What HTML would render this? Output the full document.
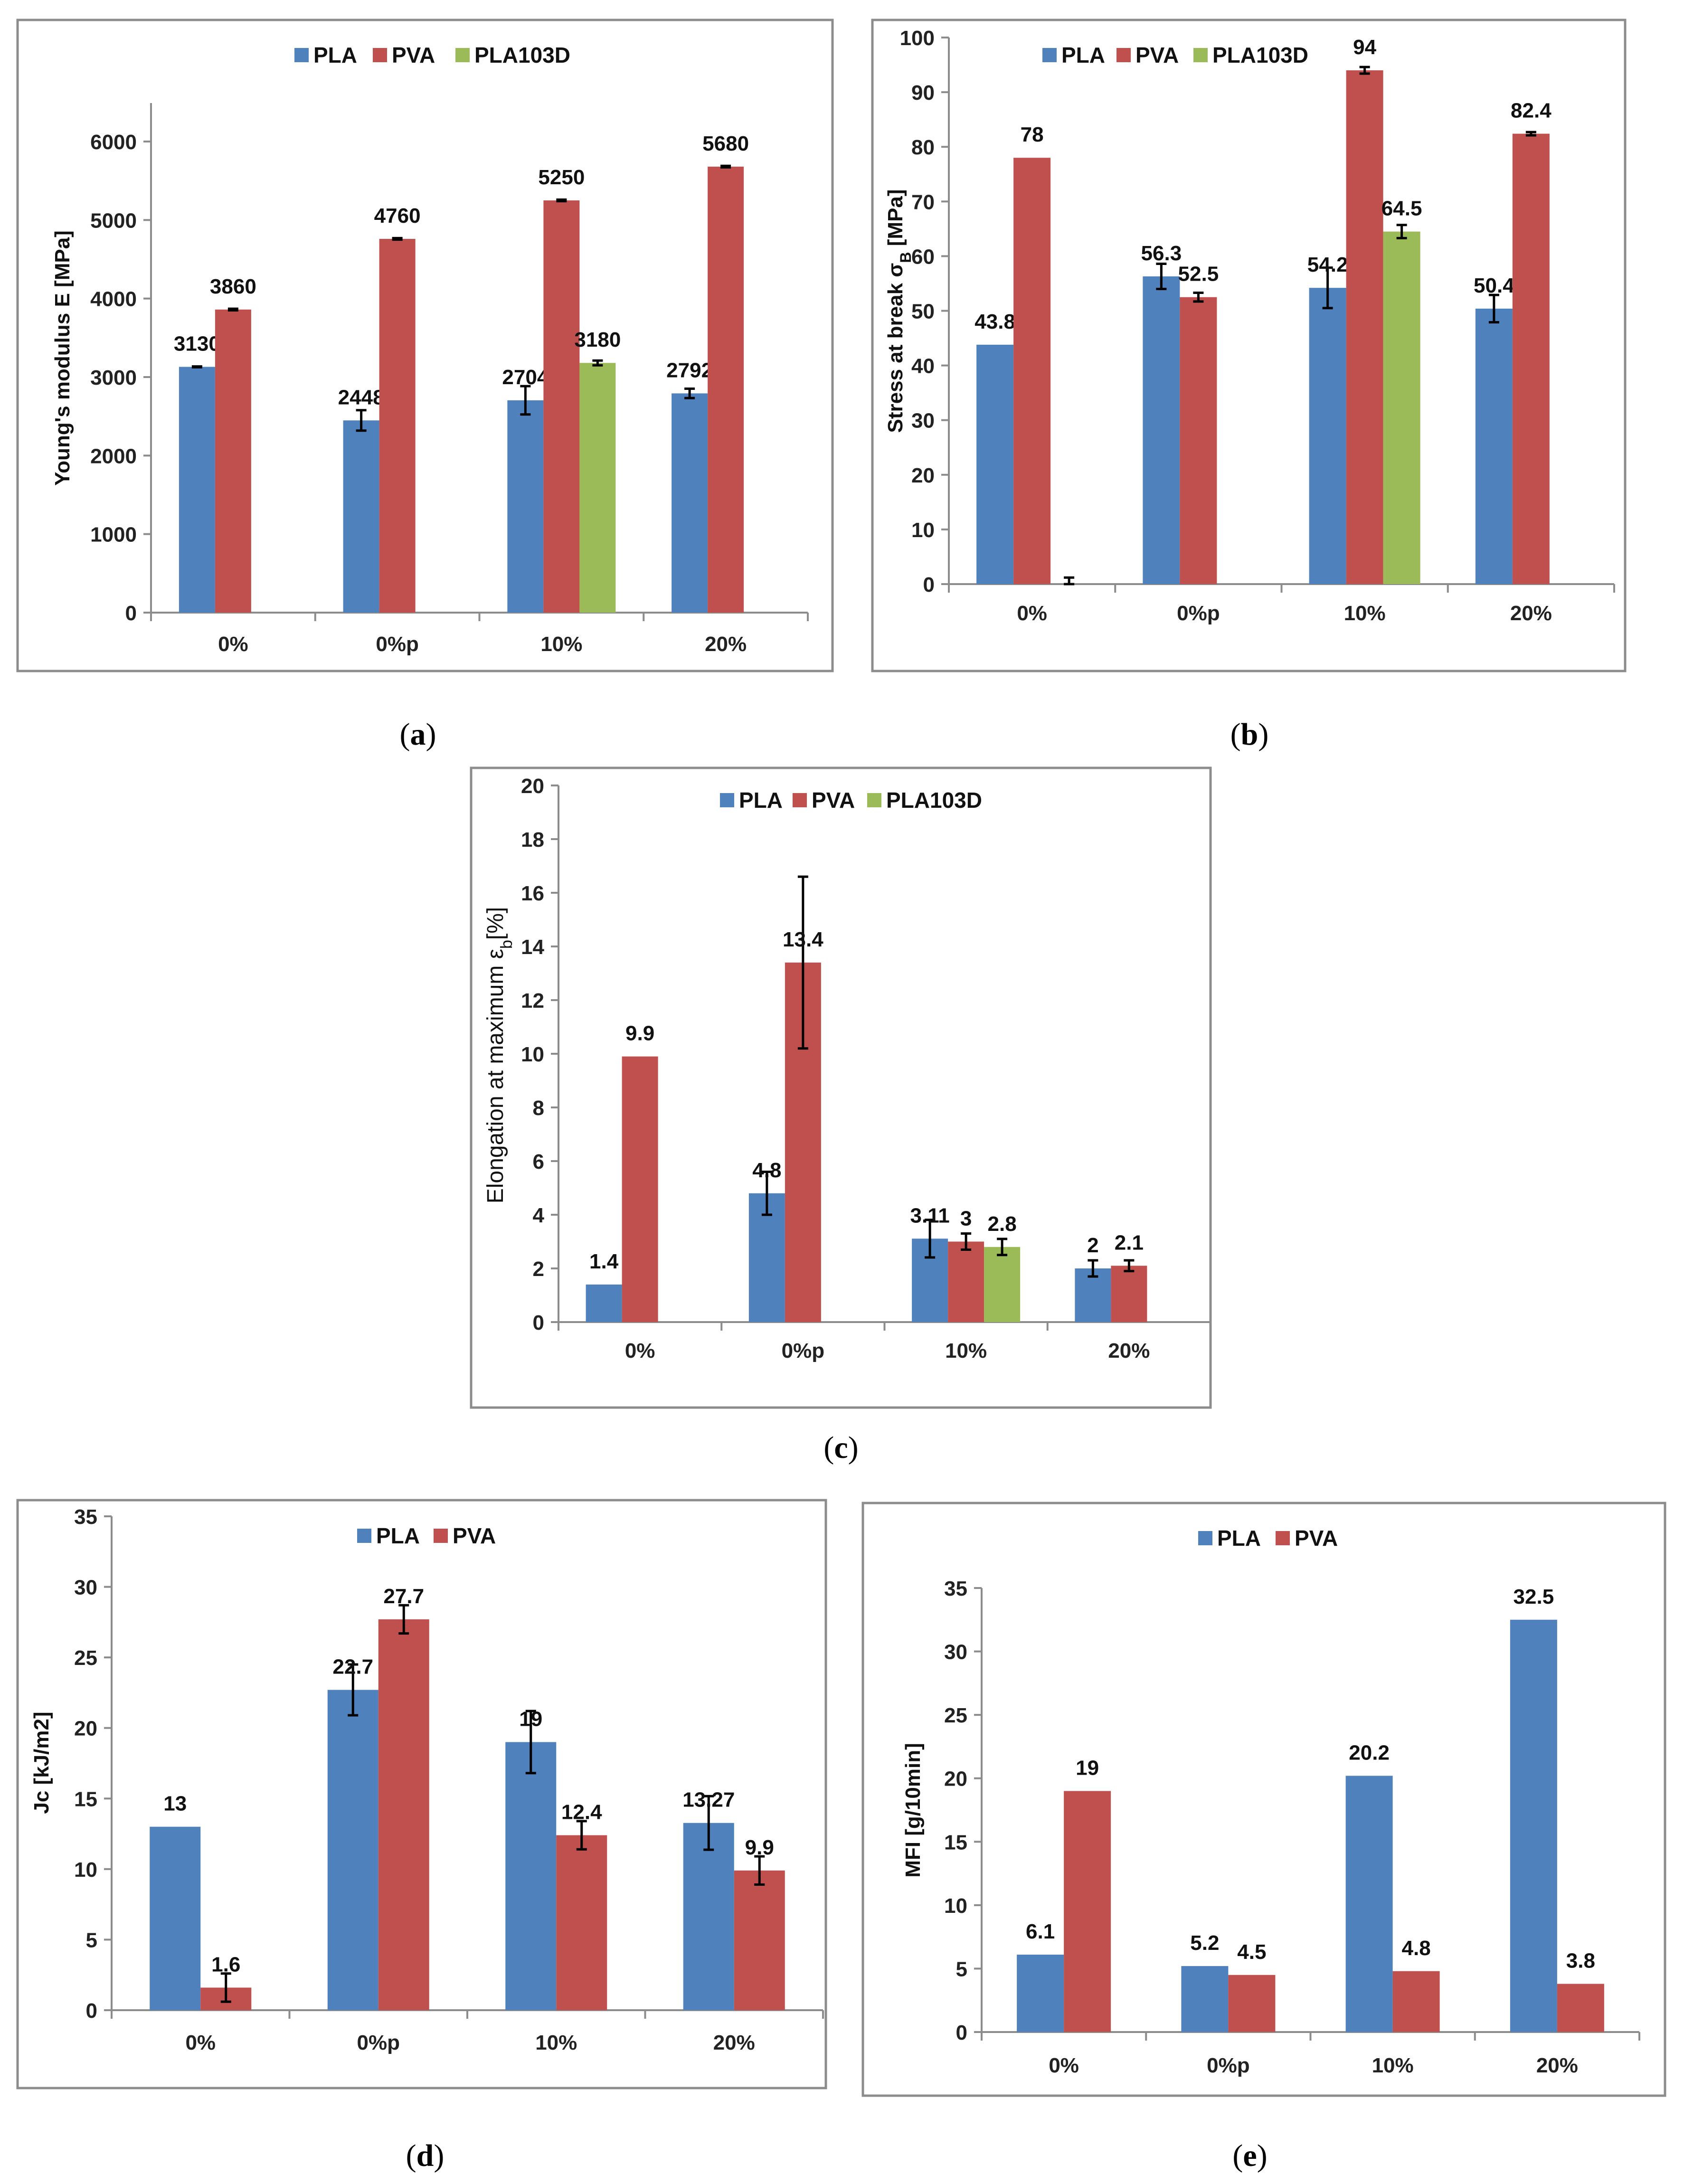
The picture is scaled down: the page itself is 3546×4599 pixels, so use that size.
<!DOCTYPE html>
<html><head><meta charset="utf-8">
<style>
html,body{margin:0;padding:0;background:#fff;}
svg{display:block;font-family:"Liberation Sans",sans-serif;}
</style></head>
<body>
<svg id="fig" width="3546" height="4599" viewBox="0 0 3546 4599" xmlns="http://www.w3.org/2000/svg">
<rect x="0" y="0" width="3546" height="4599" fill="#fff"/>
</svg>
<script>
const cats = ['0%', '0%p', '10%', '20%'];
// (a) Young's modulus
const A_pla = [3130, 2448, 2704, 2792];
const A_pla_err = [5, 130, 180, 60];
const A_pva = [3860, 4760, 5250, 5680];
const A_pva_err = [10, 10, 10, 10];
const A_g = [null, null, 3180, null];
const A_g_err = [0, 0, 30, 0];
const A_ticks = [0, 1000, 2000, 3000, 4000, 5000, 6000];
// (b) Stress at break
const B_pla = [43.8, 56.3, 54.2, 50.4];
const B_pla_err = [0, 2.3, 3.7, 2.5];
const B_pva = [78, 52.5, 94, 82.4];
const B_pva_err = [0, 0.8, 0.6, 0.3];
const B_g = [0, null, 64.5, null];
const B_g_err = [1.2, 0, 1.2, 0];
const B_ticks = [0, 10, 20, 30, 40, 50, 60, 70, 80, 90, 100];
// (c) Elongation
const C_pla = [1.4, 4.8, 3.11, 2];
const C_pla_err = [0, 0.8, 0.7, 0.3];
const C_pva = [9.9, 13.4, 3, 2.1];
const C_pva_err = [0, 3.2, 0.3, 0.2];
const C_g = [null, null, 2.8, null];
const C_g_err = [0, 0, 0.3, 0];
const C_ticks = [0, 2, 4, 6, 8, 10, 12, 14, 16, 18, 20];
// (d) Jc
const D_pla = [13, 22.7, 19, 13.27];
const D_pla_err = [0, 1.8, 2.2, 1.9];
const D_pva = [1.6, 27.7, 12.4, 9.9];
const D_pva_err = [1.0, 1.0, 1.0, 1.0];
const D_ticks = [0, 5, 10, 15, 20, 25, 30, 35];
// (e) MFI
const E_pla = [6.1, 5.2, 20.2, 32.5];
const E_pva = [19, 4.5, 4.8, 3.8];
const E_ticks = [0, 5, 10, 15, 20, 25, 30, 35];

const NS = 'http://www.w3.org/2000/svg';
const svg = document.getElementById('fig');
const BLUE = '#4F81BD', RED = '#C0504D', GREEN = '#9BBB59';

function mk(tag, attrs, parent) {
  const e = document.createElementNS(NS, tag);
  for (const k in attrs) e.setAttribute(k, attrs[k]);
  (parent || svg).appendChild(e);
  return e;
}

function draw(c) {
  const g = mk('g', {});
  
  
  const fr = mk('rect', {x: c.fx, y: c.fy, width: c.fw, height: c.fh, fill: '#fff', stroke: '#8c8c8c', 'stroke-width': 5}, g);
  
  
  const yv = v => c.y0 - (v - c.vmin) / (c.vmax - c.vmin) * (c.y0 - c.ytop);
  const ya = mk('line', {x1: c.x0, y1: c.axTop, x2: c.x0, y2: c.y0, stroke: '#8c8c8c', 'stroke-width': 4}, g);
  
  
  c.ticks.forEach(t => {
    const y = yv(t);
    const tl = mk('line', {x1: c.x0 - 16, y1: y, x2: c.x0, y2: y, stroke: '#8c8c8c', 'stroke-width': 4}, g);
    
    
    const tx = mk('text', {x: c.x0 - 30, y: y + 16, 'text-anchor': 'end', 'font-size': 44, 'font-weight': 'bold', fill: '#222'}, g);
    tx.textContent = t;
    
    
  });
  const xa = mk('line', {x1: c.x0, y1: c.y0, x2: c.x1, y2: c.y0, stroke: '#8c8c8c', 'stroke-width': 4}, g);
  
  
  const cw = (c.x1 - c.x0) / cats.length;
  for (let i = 0; i <= cats.length; i++) {
    const x = c.x0 + i * cw;
    const tk = mk('line', {x1: x, y1: c.y0, x2: x, y2: c.y0 + 18, stroke: '#8c8c8c', 'stroke-width': 4}, g);
    
    
  }
  cats.forEach((cat, i) => {
    const tx = mk('text', {x: c.x0 + (i + 0.5) * cw, y: c.xlabY + 16, 'text-anchor': 'middle', 'font-size': 44, 'font-weight': 'bold', fill: '#222'}, g);
    tx.textContent = cat;
    
    
  });
  const ns = c.series.length;
  c.series.forEach((s, si) => {
    cats.forEach((cat, i) => {
      const v = s.vals[i];
      if (v === null || v === undefined) return;
      const left = c.x0 + (i + 0.5) * cw - ns * c.bw / 2 + si * c.bw;
      const top = yv(v);
      if (v > 0) {
        const r = mk('rect', {x: left, y: top, width: c.bw, height: c.y0 - top, fill: s.color}, g);
        
        
      }
      const er = s.errs ? s.errs[i] : 0;
      if (er > 0) {
        const cx = left + c.bw / 2;
        const e1 = yv(v + er), e2 = yv(Math.max(v - er, 0));
        const el = mk('path', {d: `M${cx},${e1}V${e2}M${cx - 11},${e1}H${cx + 11}M${cx - 11},${e2}H${cx + 11}`, stroke: '#000', 'stroke-width': 5, fill: 'none'}, g);
        
        
      }
      if (v > 0) {
        const lb = mk('text', {x: left + c.bw / 2, y: top - 34, 'text-anchor': 'middle', 'font-size': 44, 'font-weight': 'bold', fill: '#111'}, g);
        lb.textContent = v;
        
        
      }
    });
  });
  c.series.forEach((s, si) => {
    const lx = c.legX[si];
    const sq = mk('rect', {x: lx, y: c.legY - 15, width: 30, height: 30, fill: s.color}, g);
    
    
    const lt = mk('text', {x: lx + 40, y: c.legY + 16, 'font-size': 46, 'font-weight': 'bold', fill: '#111'}, g);
    lt.textContent = s.name;
    
    
  });
  const yt = mk('text', {x: 0, y: 0, transform: `translate(${c.ytX + 16},${c.ytY}) rotate(-90)`, 'text-anchor': 'middle', 'font-size': c.ytSize || 44, 'font-weight': c.ytBold === false ? 'normal' : 'bold', fill: '#111'}, g);
  yt.innerHTML = c.ytitle;
  
  
  const cp = mk('text', {x: c.capX, y: c.capY + 22, 'text-anchor': 'middle', 'font-size': 66, 'font-family': '"Liberation Serif",serif', fill: '#000'}, svg);
  cp.innerHTML = '(<tspan font-weight="bold">' + c.cap + '</tspan>)';
  
  
}

draw({id: 'chart-a-youngs-modulus', fx: 37, fy: 42, fw: 1716, fh: 1371,
  x0: 318, x1: 1701, y0: 1290, ytop: 298, vmin: 0, vmax: 6000, axTop: 217, ticks: A_ticks, bw: 76, xlabY: 1355,
  series: [{name: 'PLA', color: BLUE, vals: A_pla, errs: A_pla_err}, {name: 'PVA', color: RED, vals: A_pva, errs: A_pva_err}, {name: 'PLA103D', color: GREEN, vals: A_g, errs: A_g_err}],
  legX: [620, 785, 959], legY: 116, ytitle: "Young's modulus  E [MPa]", ytX: 130, ytY: 754, cap: 'a', capX: 880, capY: 1546});

draw({id: 'chart-b-stress-at-break', fx: 1837, fy: 42, fw: 1585, fh: 1371,
  x0: 1998, x1: 3399, y0: 1230, ytop: 79, vmin: 0, vmax: 100, axTop: 79, ticks: B_ticks, bw: 78, xlabY: 1290,
  series: [{name: 'PLA', color: BLUE, vals: B_pla, errs: B_pla_err}, {name: 'PVA', color: RED, vals: B_pva, errs: B_pva_err}, {name: 'PLA103D', color: GREEN, vals: B_g, errs: B_g_err}],
  legX: [2195, 2351, 2513], legY: 116, ytitle: 'Stress at break σ<tspan baseline-shift="sub" font-size="32">B</tspan> [MPa]', ytX: 1884, ytY: 655, cap: 'b', capX: 2631, capY: 1546});

draw({id: 'chart-c-elongation', fx: 992, fy: 1617, fw: 1557, fh: 1347,
  x0: 1176, x1: 2549, y0: 2784, ytop: 1654, vmin: 0, vmax: 20, axTop: 1654, ticks: C_ticks, bw: 76, xlabY: 2843,
  series: [{name: 'PLA', color: BLUE, vals: C_pla, errs: C_pla_err}, {name: 'PVA', color: RED, vals: C_pva, errs: C_pva_err}, {name: 'PLA103D', color: GREEN, vals: C_g, errs: C_g_err}],
  legX: [1516, 1669, 1826], legY: 1685, ytitle: 'Elongation at maximum  ε<tspan baseline-shift="sub" font-size="34">b</tspan>[%]', ytBold: false, ytSize: 48, ytX: 1043, ytY: 2222, cap: 'c', capX: 1771, capY: 3048});

draw({id: 'chart-d-jc', fx: 37, fy: 3159, fw: 1702, fh: 1238,
  x0: 235, x1: 1733, y0: 4233, ytop: 3193, vmin: 0, vmax: 35, axTop: 3193, ticks: D_ticks, bw: 107, xlabY: 4300,
  series: [{name: 'PLA', color: BLUE, vals: D_pla, errs: D_pla_err}, {name: 'PVA', color: RED, vals: D_pva, errs: D_pva_err}],
  legX: [752, 913], legY: 3234, ytitle: 'Jc [kJ/m2]', ytX: 86, ytY: 3712, cap: 'd', capX: 895, capY: 4539});

draw({id: 'chart-e-mfi', fx: 1817, fy: 3165, fw: 1689, fh: 1248,
  x0: 2067, x1: 3452, y0: 4279, ytop: 3344, vmin: 0, vmax: 35, axTop: 3344, ticks: E_ticks, bw: 99, xlabY: 4348,
  series: [{name: 'PLA', color: BLUE, vals: E_pla, errs: null}, {name: 'PVA', color: RED, vals: E_pva, errs: null}],
  legX: [2523, 2686], legY: 3239, ytitle: 'MFI [g/10min]', ytX: 1921, ytY: 3812, cap: 'e', capX: 2632, capY: 4539});
</script>
</body></html>
